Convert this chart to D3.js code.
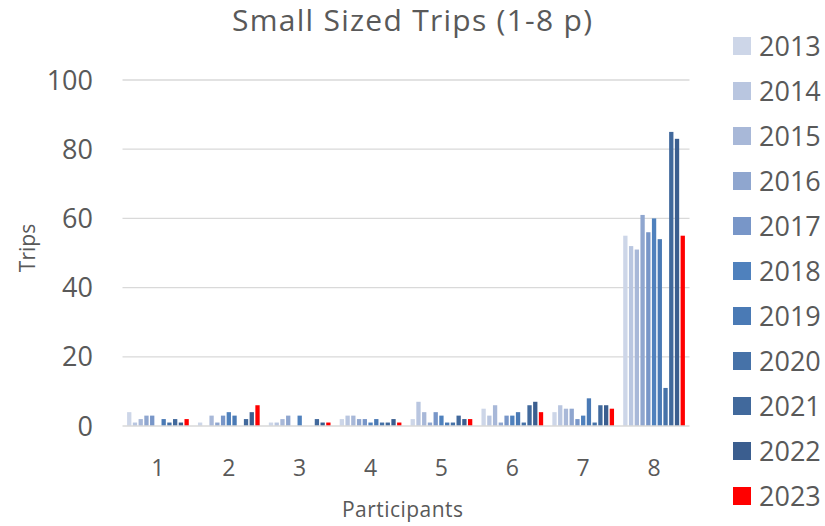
<!DOCTYPE html>
<html>
<head>
<meta charset="utf-8">
<script src="https://cdn.jsdelivr.net/npm/d3@7"></script>
<style>
  html, body { margin: 0; padding: 0; background: #fff; }
  svg { display: block; font-family: "Open Sans", sans-serif; }
</style>
</head>
<body>
<svg id="chart" width="825" height="526"></svg>
<script>
const categories = ["1", "2", "3", "4", "5", "6", "7", "8"];
const years = ["2013","2014","2015","2016","2017","2018","2019","2020","2021","2022","2023"];
// one array per year, one value per participants category
const v2013 = [4, 1, 1, 2, 2, 5, 4, 55];
const v2014 = [1, 0, 1, 3, 7, 3, 6, 52];
const v2015 = [2, 3, 2, 3, 4, 6, 5, 51];
const v2016 = [3, 1, 3, 2, 1, 1, 5, 61];
const v2017 = [3, 3, 0, 2, 4, 3, 2, 56];
const v2018 = [0, 4, 3, 1, 3, 3, 3, 60];
const v2019 = [2, 3, 0, 2, 1, 4, 8, 54];
const v2020 = [1, 0, 0, 1, 1, 1, 1, 11];
const v2021 = [2, 2, 2, 1, 3, 6, 6, 85];
const v2022 = [1, 4, 1, 2, 2, 7, 6, 83];
const v2023 = [2, 6, 1, 1, 2, 4, 5, 55];
const seriesValues = [v2013, v2014, v2015, v2016, v2017, v2018, v2019, v2020, v2021, v2022, v2023];
const yTicks = [0, 20, 40, 60, 80, 100];
const colors = ["#CDD6E8","#B9C6E0","#A8B8D8","#8FA6CF","#7896C8","#4F81BD","#4A7AB5","#4672A8","#41699C","#3B5E8F","#FF0000"];

(function () {
const svg = d3.select("#chart");
const textColor = "#595959";
const pLeft = 122.5, pRight = 689.5, pTop = 80, pBottom = 426;

const x0 = d3.scaleBand().domain(categories).range([pLeft, pRight]).padding(0);
const x1 = d3.scaleBand().domain(years).range([0, x0.bandwidth()]).paddingInner(0.25).paddingOuter(0.8);
const y = d3.scaleLinear().domain([0, 100]).range([pBottom, pTop]);

// gridlines
svg.append("g").selectAll("line").data(yTicks.filter(d => d > 0)).join("line")
  .attr("x1", pLeft).attr("x2", pRight)
  .attr("y1", d => y(d)).attr("y2", d => y(d))
  .attr("stroke", "#d9d9d9").attr("stroke-width", 1.3);

// bars
const groups = svg.append("g").selectAll("g").data(categories).join("g")
  .attr("transform", d => `translate(${x0(d)},0)`);
groups.selectAll("rect")
  .data((c, ci) => years.map((yr, yi) => ({yr, yi, v: seriesValues[yi][ci]})))
  .join("rect")
  .attr("x", d => x1(d.yr))
  .attr("width", x1.bandwidth())
  .attr("y", d => y(d.v))
  .attr("height", d => y(0) - y(d.v))
  .attr("fill", d => colors[d.yi]);

// baseline
svg.append("line").attr("x1", pLeft).attr("x2", pRight)
  .attr("y1", y(0)).attr("y2", y(0))
  .attr("stroke", "#d9d9d9").attr("stroke-width", 1.5);

// y axis labels
svg.append("g").selectAll("text").data(yTicks).join("text")
  .attr("x", 93).attr("y", d => y(d) + 9.5)
  .attr("text-anchor", "end").attr("font-size", 27).attr("fill", textColor)
  .text(d => d);

// x axis labels
svg.append("g").selectAll("text").data(categories).join("text")
  .attr("x", d => x0(d) + x0.bandwidth() / 2).attr("y", 476)
  .attr("text-anchor", "middle").attr("font-size", 23).attr("fill", textColor)
  .text(d => d);

// title
svg.append("text").attr("x", 412).attr("y", 31).attr("text-anchor", "middle")
  .attr("font-size", 30).attr("fill", textColor)
  .attr("textLength", 360).attr("lengthAdjust", "spacing")
  .text("Small Sized Trips (1-8 p)");

// axis titles
svg.append("text").attr("x", 402.5).attr("y", 517).attr("text-anchor", "middle")
  .attr("font-size", 21).attr("fill", textColor)
  .attr("textLength", 121).attr("lengthAdjust", "spacing")
  .text("Participants");
svg.append("text").attr("transform", "translate(35,248) rotate(-90)").attr("text-anchor", "middle")
  .attr("font-size", 21).attr("fill", textColor).text("Trips");

// legend
const legend = svg.append("g").selectAll("g").data(years).join("g")
  .attr("transform", (d, i) => `translate(733,${46 + i * 45})`);
legend.append("rect").attr("x", 0).attr("y", -9).attr("width", 18).attr("height", 18)
  .attr("fill", (d, i) => colors[i]);
legend.append("text").attr("x", 26).attr("y", 10).attr("font-size", 27)
  .attr("fill", textColor).text(d => d);
})();
</script>
</body>
</html>
